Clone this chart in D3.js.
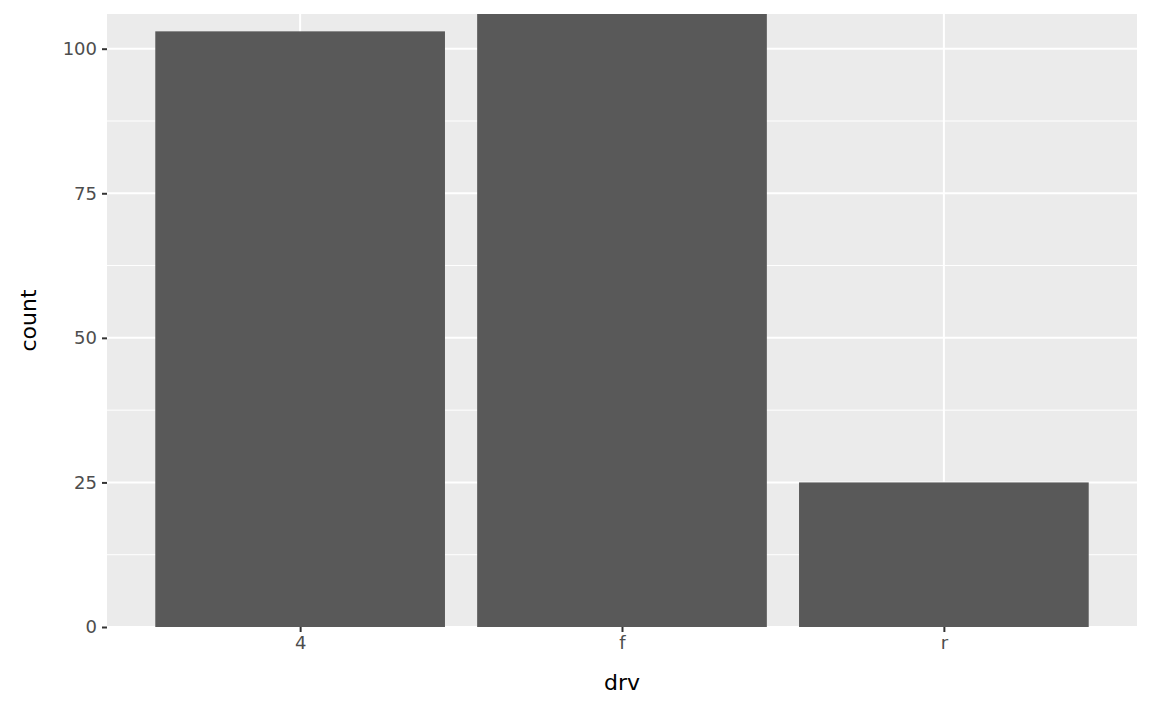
<!DOCTYPE html>
<html><head><meta charset="utf-8">
<script src="https://cdn.jsdelivr.net/npm/d3@7"></script>
<style>body{margin:0;background:#fff;font-family:"DejaVu Sans",sans-serif;}</style>
</head><body><div id="chart"></div>
<script>
const categories = ["4", "f", "r"];
const counts = [103, 106, 25];
const yTicks = [0, 25, 50, 75, 100];
const yMinor = [12.5, 37.5, 62.5, 87.5];

const W = 1152, H = 711;
const m = {left: 107, right: 15, top: 14, bottom: 84};
const svg = d3.select("#chart").append("svg").attr("width", W).attr("height", H);

const x = d3.scaleLinear().domain([0.4, 3.6]).range([m.left, W - m.right]);
const y = d3.scaleLinear().domain([0, 106]).range([H - m.bottom, m.top]);

svg.append("rect").attr("x", m.left).attr("y", m.top)
  .attr("width", W - m.right - m.left).attr("height", H - m.bottom - m.top)
  .attr("fill", "#ebebeb");

const grid = svg.append("g");
grid.selectAll(".minor").data(yMinor).join("line")
  .attr("x1", m.left).attr("x2", W - m.right)
  .attr("y1", d => y(d)).attr("y2", d => y(d))
  .attr("stroke", "#fff").attr("stroke-width", 1);
grid.selectAll(".major").data(yTicks).join("line")
  .attr("x1", m.left).attr("x2", W - m.right)
  .attr("y1", d => y(d)).attr("y2", d => y(d))
  .attr("stroke", "#fff").attr("stroke-width", 2);
grid.selectAll(".vx").data(categories).join("line")
  .attr("x1", (d, i) => x(i + 1)).attr("x2", (d, i) => x(i + 1))
  .attr("y1", m.top).attr("y2", H - m.bottom)
  .attr("stroke", "#fff").attr("stroke-width", 2);

svg.selectAll(".bar").data(counts).join("rect")
  .attr("x", (d, i) => x(i + 1 - 0.45))
  .attr("width", (d, i) => x(i + 1.45) - x(i + 0.55))
  .attr("y", d => y(d)).attr("height", d => y(0) - y(d))
  .attr("fill", "#595959");

const yAxis = svg.append("g").attr("transform", `translate(${m.left},0)`)
  .call(d3.axisLeft(y).tickValues(yTicks).tickSize(5).tickPadding(5));
const xAxis = svg.append("g").attr("transform", `translate(0,${H - m.bottom})`)
  .call(d3.axisBottom(x).tickValues([1, 2, 3]).tickFormat((d, i) => categories[i]).tickSize(5).tickPadding(4));
[yAxis, xAxis].forEach(a => {
  a.select(".domain").remove();
  a.selectAll("line").attr("stroke", "#333").attr("stroke-width", 2);
  a.selectAll("text").attr("fill", "#4d4d4d").attr("font-size", 18).attr("font-family", "DejaVu Sans");
});

svg.append("text").attr("x", (m.left + W - m.right) / 2).attr("y", 690)
  .attr("text-anchor", "middle").attr("font-size", 22).text("drv");
svg.append("text").attr("transform", `translate(36,${(m.top + H - m.bottom) / 2}) rotate(-90)`)
  .attr("text-anchor", "middle").attr("font-size", 22).text("count");
</script></body></html>
